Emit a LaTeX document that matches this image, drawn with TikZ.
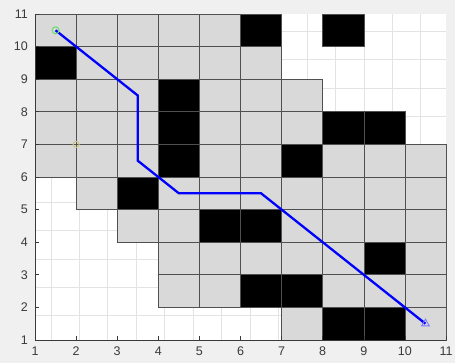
\documentclass[tikz,border=0pt]{standalone}
\usepackage{fontspec}
\setmainfont{Liberation Sans}
\usetikzlibrary{shapes.geometric}
\begin{document}
\begin{tikzpicture}[x=1pt,y=1pt,
  gridline/.style={draw=gridc,line width=0.5pt},
  graycell/.style={fill=cellgray,draw=celledge,line width=0.6pt},
  blackcell/.style={fill=black,draw=celledge,line width=0.6pt},
  axisline/.style={draw=axc,line width=0.6pt},
  ticklabel/.style={text=axc,font=\fontsize{12.5}{14}\selectfont,inner sep=0pt},
  pathline/.style={draw=pathblue,line width=2.3pt,line join=miter},
  startmark/.style={circle,draw=startgreen,line width=1pt,minimum size=7pt,inner sep=0pt},
  waymark/.style={circle,draw=wayyellow,line width=1pt,minimum size=6pt,inner sep=0pt},
  goalmark/.style={regular polygon,regular polygon sides=3,draw=goalblue,line width=0.9pt,minimum size=9pt,inner sep=0pt}]
\definecolor{figbg}{HTML}{F0F0F0}
\definecolor{gridc}{HTML}{E3E3E3}
\definecolor{cellgray}{HTML}{D9D9D9}
\definecolor{celledge}{HTML}{505050}
\definecolor{axc}{HTML}{3A3A3A}
\definecolor{pathblue}{HTML}{0000FF}
\definecolor{startgreen}{HTML}{66DD66}
\definecolor{wayyellow}{HTML}{C8C884}
\definecolor{goalblue}{HTML}{7777FF}
\fill[figbg] (0,0) rectangle (455,363);
\useasboundingbox (0,0) rectangle (455,363);
\begin{scope}[x=41.1pt,y=32.6pt,xshift=-6.1pt,yshift=-9.6pt]
  \fill[white] (1,1) rectangle (11,11);
  \draw[gridline] (1,1) grid (11,11);
  % gray cells
  \foreach \cx/\cy in {1/10,2/10,3/10,4/10,5/10,
     2/9,3/9,4/9,5/9,6/9,
     1/8,2/8,3/8,5/8,6/8,7/8,
     1/7,2/7,3/7,5/7,6/7,7/7,
     1/6,2/6,3/6,5/6,6/6,8/6,9/6,10/6,
     2/5,4/5,5/5,6/5,7/5,8/5,9/5,10/5,
     3/4,4/4,7/4,8/4,9/4,10/4,
     4/3,5/3,6/3,7/3,8/3,10/3,
     4/2,5/2,8/2,9/2,10/2,
     7/1,10/1}
    \draw[graycell] (\cx,\cy) rectangle ++(1,1);
  % black cells
  \foreach \cx/\cy in {6/10,8/10,1/9,4/8,4/7,8/7,9/7,4/6,7/6,3/5,5/4,6/4,9/3,6/2,7/2,8/1,9/1}
    \draw[blackcell] (\cx,\cy) rectangle ++(1,1);
  % axes
  \draw[axisline] (1,11) -- (1,1) -- (11,1);
  \foreach \i in {1,...,11} {
    \draw[axisline] (\i,1) -- ++(0,4pt);
    \draw[axisline] (1,\i) -- ++(4pt,0);
    \node[ticklabel,anchor=north] (xl\i) at ([yshift=-7pt]\i,1) {\i};
    \node[ticklabel,anchor=east] (yl\i) at ([xshift=-7pt]1,\i) {\i};
  }
  % path
  \coordinate (s0) at (1.5,10.5);
  \coordinate (p1) at (3.5,8.5);
  \coordinate (p2) at (3.5,6.5);
  \coordinate (p3) at (4.5,5.5);
  \coordinate (p4) at (6.5,5.5);
  \coordinate (g0) at (10.5,1.5);
  \draw[pathline] (s0) -- (p1) -- (p2) -- (p3) -- (p4) -- (g0);
  \node[startmark] (start) at (s0) {};
  \node[waymark] (way) at (2,7) {};
  \node[goalmark] (goal) at (g0) {};
\end{scope}
\end{tikzpicture}
\end{document}
